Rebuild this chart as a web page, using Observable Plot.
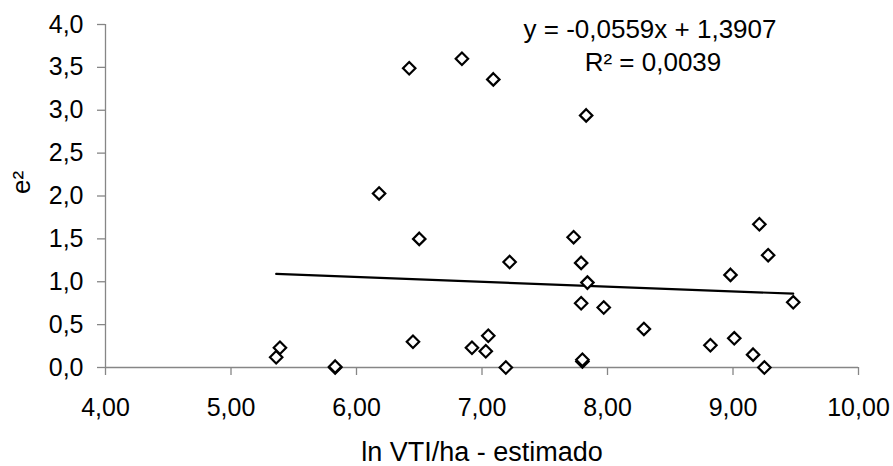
<!DOCTYPE html>
<html>
<head>
<meta charset="utf-8">
<script src="https://cdn.jsdelivr.net/npm/d3@7"></script>
<script src="https://cdn.jsdelivr.net/npm/@observablehq/plot@0.6"></script>
<style>
  html, body { margin: 0; padding: 0; background: #fff; }
  #chart { width: 893px; height: 466px; }
</style>
</head>
<body>
<div id="chart"></div>
<script>
// Data
const lnVTI = [5.36, 5.39, 5.83, 5.83, 6.18, 6.42, 6.45, 6.50, 6.84, 6.92,
               7.03, 7.05, 7.09, 7.19, 7.22, 7.73, 7.79, 7.79, 7.80, 7.80,
               7.83, 7.84, 7.97, 8.29, 8.82, 8.98, 9.01, 9.16, 9.21, 9.25,
               9.28, 9.48];
const e2    = [0.12, 0.23, 0.00, 0.01, 2.03, 3.49, 0.30, 1.50, 3.60, 0.23,
               0.19, 0.37, 3.36, 0.00, 1.23, 1.52, 1.22, 0.75, 0.07, 0.09,
               2.94, 0.99, 0.70, 0.45, 0.26, 1.08, 0.34, 0.15, 1.67, 0.00,
               1.31, 0.76];
const slope = -0.0559;
const intercept = 1.3907;
const r2 = 0.0039;
const xTicks = [4, 5, 6, 7, 8, 9, 10];
const yTicks = [0, 0.5, 1, 1.5, 2, 2.5, 3, 3.5, 4];

const points = lnVTI.map((x, i) => ({x, y: e2[i]}));
const [xmin, xmax] = d3.extent(lnVTI);
const trend = [xmin, xmax].map(x => ({x, y: slope * x + intercept}));

const comma = (v, n) => v.toFixed(n).replace(".", ",");
const eqText = `y = ${comma(slope, 4)}x + ${comma(intercept, 4)}`;
const r2Text = `R² = ${comma(r2, 4)}`;

const font = "'Liberation Sans', Arial, sans-serif";
const axisGray = "#868686";

const chart = Plot.plot({
  width: 893,
  height: 466,
  marginLeft: 105,
  marginRight: 35,
  marginTop: 24,
  marginBottom: 99,
  style: {fontFamily: font, fontSize: "25px", color: "black", background: "white"},
  x: {domain: [4, 10]},
  y: {domain: [0, 4]},
  marks: [
    Plot.ruleX([4], {stroke: axisGray, strokeWidth: 1.3}),
    Plot.ruleY([0], {stroke: axisGray, strokeWidth: 1.3}),
    Plot.axisX(xTicks, {
      tickSize: 8, tickPadding: 23, stroke: axisGray, strokeWidth: 1.3,
      tickFormat: d => comma(d, 2), label: null, fontSize: 25
    }),
    Plot.axisY(yTicks, {
      tickSize: 8, tickPadding: 14, stroke: axisGray, strokeWidth: 1.3,
      tickFormat: d => comma(d, 1), label: null, fontSize: 25
    }),
    Plot.line(trend, {x: "x", y: "y", stroke: "black", strokeWidth: 2.2}),
    Plot.dot(points, {x: "x", y: "y", symbol: "diamond2", r: 5.6, stroke: "black", strokeWidth: 2.2, fill: "white"}),
    Plot.text([eqText], {frameAnchor: "top", text: d => d, dx: 168, dy: 5, lineAnchor: "middle", fontSize: 26, fill: "black"}),
    Plot.text([r2Text], {frameAnchor: "top", text: d => d, dx: 171, dy: 38, lineAnchor: "middle", fontSize: 26, fill: "black"}),
    Plot.text(["ln VTI/ha - estimado"], {frameAnchor: "bottom", text: d => d, dy: 85, lineAnchor: "middle", fontSize: 27, fill: "black"}),
    Plot.text(["e²"], {frameAnchor: "left", text: d => d, dx: -84, dy: -2, rotate: -90, lineAnchor: "middle", fontSize: 26, fill: "black"})
  ]
});
document.getElementById("chart").append(chart);
</script>
</body>
</html>
